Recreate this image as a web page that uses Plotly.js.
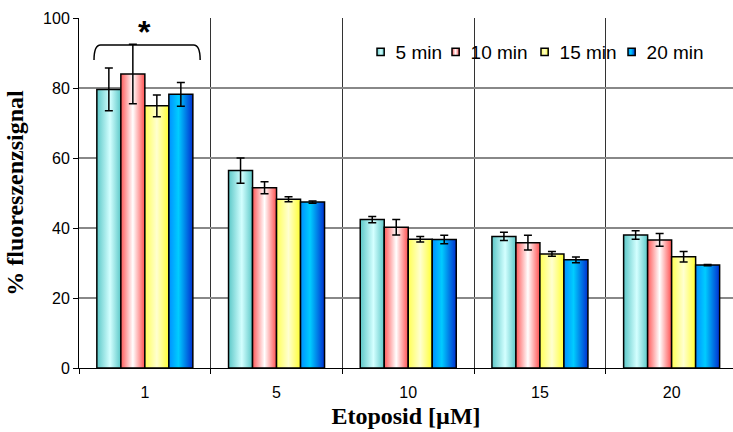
<!DOCTYPE html>
<html>
<head>
<meta charset="utf-8">
<script src="https://cdn.plot.ly/plotly-3.0.1.min.js"></script>
<style>html,body{margin:0;padding:0;background:#fff;}#chart{width:733px;height:432px;}</style>
</head>
<body>
<div id="chart"></div>
<script>
// ---- data ----
const categories = ['1', '5', '10', '15', '20'];
const seriesNames = ['5 min', '10 min', '15 min', '20 min'];
const min5  = [79.6, 56.4, 42.4, 37.6, 38.0];
const err5  = [6.1, 3.6, 0.9, 1.2, 1.2];
const min10 = [84.0, 51.5, 40.2, 35.8, 36.6];
const err10 = [8.5, 1.7, 2.2, 2.1, 1.8];
const min15 = [74.9, 48.2, 36.8, 32.6, 31.8];
const err15 = [3.1, 0.7, 0.8, 0.7, 1.5];
const min20 = [78.2, 47.4, 36.7, 30.9, 29.4];
const err20 = [3.4, 0.3, 1.2, 0.85, 0.2];
const yTicks = [0, 20, 40, 60, 80, 100];
// significance bracket over first group (x in category index units, y in data units)
const bracketX = [-0.386, 0.42];
const bracketY = [88, 92.3];
const bracketLabel = '*';

// ---- styles ----
const gradients = [
  [['0%', '#5cc8c8'], ['55%', '#d4ffff'], ['100%', '#5cc8c8']],
  [['0%', '#ff5a5a'], ['50%', '#ffffff'], ['100%', '#ff5050']],
  [['0%', '#ffff55'], ['50%', '#ffffd0'], ['100%', '#ffff33']],
  [['0%', '#0090ff'], ['40%', '#00ccff'], ['100%', '#0030d0']]
];
const solid = ['#9ee6e6', '#ffb0b0', '#ffff99', '#0099ff'];
// legend swatch left edges (page px) and layout tweaks
const legendSwatchLeft = [377, 452, 541, 628];
const swatchScale = 0.6;
const legendTextX = 35;

const vals = [min5, min10, min15, min20];
const errs = [err5, err10, err15, err20];
const xIdx = categories.map((c, i) => i);

const traces = vals.map((v, k) => ({
  type: 'bar',
  name: seriesNames[k],
  x: xIdx,
  y: v,
  marker: {color: solid[k], line: {color: '#000', width: 1.5}},
  error_y: {type: 'data', array: errs[k], visible: true, color: '#000', thickness: 1.5, width: 4}
}));

const bx0 = bracketX[0], bx1 = bracketX[1], by0 = bracketY[0], by1 = bracketY[1];
const r = 0.05;
const layout = {
  width: 733, height: 432,
  margin: {l: 79, r: 0, t: 18, b: 64},
  paper_bgcolor: '#fff', plot_bgcolor: '#fff',
  barmode: 'group', bargap: 0.271, bargroupgap: 0,
  showlegend: true,
  legend: {orientation: 'h', x: 1, xanchor: 'right', y: 0.903, yanchor: 'middle',
           font: {family: 'Liberation Sans, Arial, sans-serif', size: 19, color: '#000'},
           bgcolor: 'rgba(0,0,0,0)', traceorder: 'normal'},
  xaxis: {
    range: [-0.5, 4.466], tickmode: 'array', tickvals: xIdx, ticktext: categories,
    ticks: '', showgrid: false, zeroline: false, automargin: false,
    showline: true, linecolor: '#000', linewidth: 1,
    tickfont: {family: 'Liberation Sans, Arial, sans-serif', size: 16, color: '#000'},
    ticklabelstandoff: 10,
    minor: {tick0: 0.5, dtick: 1, ticks: 'outside', ticklen: 5, tickcolor: '#000',
            showgrid: true, gridcolor: '#333', gridwidth: 1},
    title: {text: 'Etoposid [µM]', standoff: 6,
            font: {family: 'Liberation Serif, Times New Roman, serif', size: 24, color: '#000', weight: 'bold'}}
  },
  yaxis: {
    range: [0, 100], tickmode: 'array', tickvals: yTicks,
    ticks: 'outside', ticklen: 5, tickcolor: '#000', automargin: false,
    showgrid: true, gridcolor: '#888', gridwidth: 1.5, zeroline: false,
    showline: true, linecolor: '#000', linewidth: 1,
    tickfont: {family: 'Liberation Sans, Arial, sans-serif', size: 16, color: '#000'},
    title: {text: '% fluoreszenzsignal', standoff: 12,
            font: {family: 'Liberation Serif, Times New Roman, serif', size: 24, color: '#000', weight: 'bold'}}
  },
  shapes: [{
    type: 'path', xref: 'x', yref: 'y',
    path: `M${bx0},${by0} Q${bx0},${by1} ${bx0 + r},${by1} L${bx1 - r},${by1} Q${bx1},${by1} ${bx1},${by0}`,
    line: {color: '#000', width: 1.5}
  }],
  annotations: [{
    x: (bx0 + bx1) / 2 - 0.02, y: by1, xref: 'x', yref: 'y', yanchor: 'bottom', yshift: -7,
    text: bracketLabel, showarrow: false,
    font: {family: 'Liberation Sans, Arial, sans-serif', size: 32, color: '#000', weight: 'bold'}
  }]
};

function matrixOf(el) {
  const t = el.transform && el.transform.baseVal.consolidate();
  return t ? t.matrix : {e: 0, f: 0};
}

Plotly.newPlot('chart', traces, layout, {staticPlot: true, displayModeBar: false}).then(gd => {
  const svg = gd.querySelector('.main-svg');
  const NS = 'http://www.w3.org/2000/svg';
  let defs = svg.querySelector('defs');
  if (!defs) { defs = document.createElementNS(NS, 'defs'); svg.insertBefore(defs, svg.firstChild); }
  gradients.forEach((stops, k) => {
    const g = document.createElementNS(NS, 'linearGradient');
    g.setAttribute('id', 'barGrad' + k);
    g.setAttribute('x1', '0'); g.setAttribute('x2', '1'); g.setAttribute('y1', '0'); g.setAttribute('y2', '0');
    stops.forEach(([off, col]) => {
      const s = document.createElementNS(NS, 'stop');
      s.setAttribute('offset', off); s.setAttribute('stop-color', col);
      g.appendChild(s);
    });
    defs.appendChild(g);
  });
  gd.querySelectorAll('.trace.bars').forEach((t, k) => {
    t.querySelectorAll('.point path').forEach(p => { p.style.fill = 'url(#barGrad' + k + ')'; });
  });
  // legend: gradient swatches, smaller, tighter spacing
  const legendG = gd.querySelector('.legend');
  const lm = matrixOf(legendG);
  gd.querySelectorAll('.legend .traces').forEach((t, k) => {
    const m = matrixOf(t);
    t.querySelectorAll('.legendpoints path').forEach(p => {
      p.style.fill = 'url(#barGrad' + k + ')';
      const pm = matrixOf(p);
      p.setAttribute('transform', `translate(${pm.e},${pm.f}) scale(${swatchScale})`);
      p.style.strokeWidth = (1.5 / swatchScale) + 'px';
      p.style.stroke = '#000';
    });
    const txt = t.querySelector('text.legendtext');
    if (txt) txt.setAttribute('x', legendTextX);
    const itemX = legendSwatchLeft[k] - lm.e - (20 - 6 * swatchScale);
    t.setAttribute('transform', `translate(${itemX},${m.f})`);
  });
});
</script>
</body>
</html>
